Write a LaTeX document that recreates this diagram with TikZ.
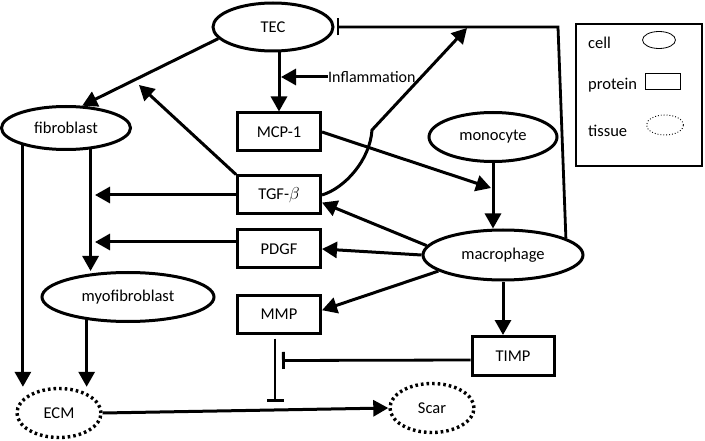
\documentclass[tikz,border=0pt]{standalone}
\usepackage{fontspec}
\setmainfont{Carlito}
\usetikzlibrary{arrows.meta,shapes.geometric}
\begin{document}
\begin{tikzpicture}[
    x=1pt, y=-1pt,
    cell/.style={ellipse, draw, line width=3pt, inner sep=0pt},
    protein/.style={rectangle, draw, line width=3pt, inner sep=0pt, minimum width=83pt, minimum height=38pt},
    tissue/.style={ellipse, draw, line width=3.4pt, dash pattern=on 2.6pt off 3pt, inner sep=0pt, minimum width=84pt, minimum height=49pt},
    link/.style={line width=3pt, -{Triangle[length=15pt,width=16pt]}},
    block/.style={line width=2.8pt, -{Bar[width=17pt]}},
    font=\fontsize{16.5}{19}\selectfont
]
\useasboundingbox (0,0) rectangle (705,441);

% Cells
\node[cell, minimum width=120pt, minimum height=48pt] (TEC) at (273,27) {TEC};
\node[cell, minimum width=129pt, minimum height=43pt] (fib) at (66,128) {fibroblast};
\node[cell, minimum width=172pt, minimum height=49pt] (myo) at (128,297) {myofibroblast};
\node[cell, minimum width=128pt, minimum height=49pt] (mono) at (493,137) {monocyte};
\node[cell, minimum width=160pt, minimum height=50pt] (macro) at (503,255) {macrophage};

% Proteins
\node[protein] (MCP) at (279,132) {MCP-1};
\node[protein] (TGF) at (279,195) {TGF-$\beta$};
\node[protein] (PDGF) at (279,249) {PDGF};
\node[protein] (MMP) at (279,314) {MMP};
\node[protein, minimum width=82pt, minimum height=39pt] (TIMP) at (513,356) {TIMP};

% Tissues
\node[tissue] (ECM) at (59,413) {ECM};
\node[tissue] (Scar) at (432,408) {Scar};

% Free ends
\node[right, inner sep=0pt, font=\fontsize{16}{19}\selectfont] (infl) at (328,77) {Inflammation};
\coordinate (inflTip) at (281,77);
\coordinate (tgfTip1) at (139,85);
\coordinate (tgfTip2) at (95,195);
\coordinate (pdgfTip) at (95,242);
\coordinate (tgfTip3) at (467,28);
\coordinate (mcpTip) at (491,188);
\coordinate (tecCorner) at (558,27);
\coordinate (mmpTip) at (275,402);
\coordinate (timpTip) at (282,360.5);

% Connections
\draw[link] (TEC.192) -- (fib.54);
\draw[link] (MCP.north |- TEC.south) -- (MCP.north);
\draw[link] (infl.west) -- (inflTip);
\draw[link] (TGF.north west) -- (tgfTip1);
\draw[link] (TGF.west) -- (tgfTip2);
\draw[link] ([yshift=7pt]PDGF.west) -- (pdgfTip);
\draw[link] (TGF.east) .. controls (345,188) and (370,160) .. (372,130) -- (tgfTip3);
\draw[link] (fib.202) -- (fib.202 |- ECM.north);
\draw[link] (fib.-41) -- (fib.-41 |- myo.north);
\draw[link] (myo.209) -- (myo.209 |- ECM.north);
\draw[link] (ECM.east) -- (Scar.west);
\draw[link] (MCP.east) -- (mcpTip);
\draw[link] (mono.south) -- (mono.south |- macro.north);
\draw[link] (macro.173) -- (TGF.-10);
\draw[link] (macro.west) -- (PDGF.east);
\draw[link] (macro.194) -- (MMP.5);
\draw[link] (macro.south) -- (macro.south |- TIMP.north);
\draw[block, shorten >=2pt] (macro.15) -- (tecCorner) -- (TEC.east);
\draw[block] ([yshift=-4pt]TIMP.west) -- (timpTip);
\draw[block, shorten <=4pt] ([xshift=-4pt]MMP.south) -- (mmpTip);

% Legend
\node[draw, line width=1.4pt, minimum width=126pt, minimum height=142pt] (legend) at (639,95) {};
\node[right, inner sep=0pt] (lcell) at (588,43) {cell};
\node[right, inner sep=0pt] (lprot) at (588,85) {protein};
\node[right, inner sep=0pt] (ltis) at (588,131) {tissue};
\node[ellipse, draw, line width=0.8pt, minimum width=33pt, minimum height=17pt] (kcell) at (659,40) {};
\node[rectangle, draw, line width=0.8pt, minimum width=35pt, minimum height=16pt] (kprot) at (663,81) {};
\node[ellipse, draw, dotted, line width=0.9pt, minimum width=37pt, minimum height=20pt] (ktis) at (665,125) {};
\end{tikzpicture}
\end{document}
